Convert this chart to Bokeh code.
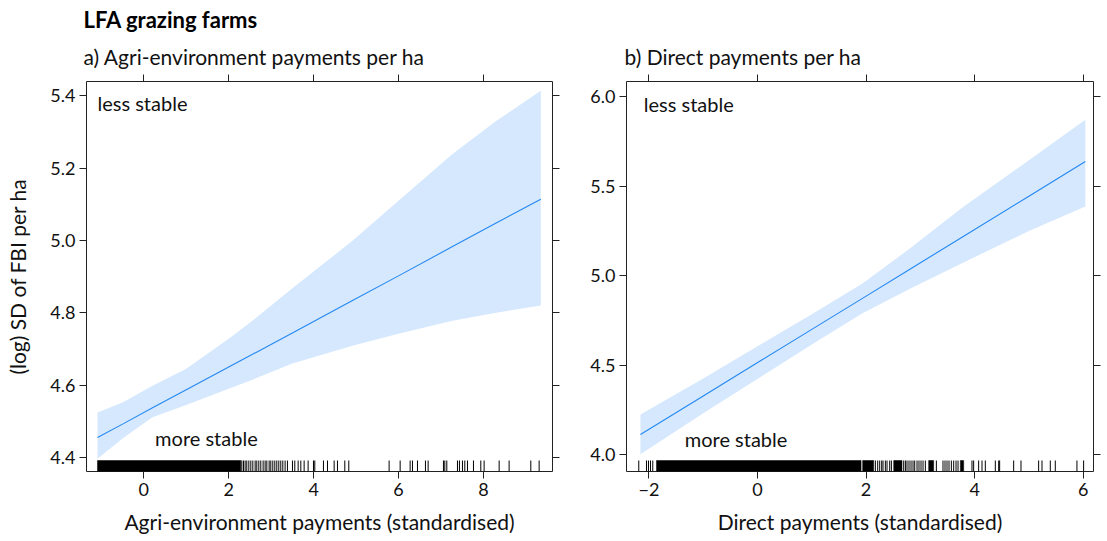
import math
from bokeh.plotting import figure
from bokeh.models import (Range1d, LinearAxis, FixedTicker, NumeralTickFormatter,
                          Title)
from bokeh.layouts import row
from bokeh.core.properties import value
from bokeh.embed import file_html
from bokeh.resources import INLINE

# ---------------- data ----------------
# Panel a: Agri-environment payments (standardised)
a_x = [-1.091, -0.5, 0.205, 1.0, 2.0, 2.561, 3.5, 4.916, 6.0, 7.272, 8.3, 9.352]
a_fit = [4.455, 4.492, 4.537, 4.587, 4.650, 4.685, 4.744, 4.834, 4.902, 4.983, 5.048, 5.114]
a_upper = [4.524, 4.552, 4.598, 4.645, 4.728, 4.778, 4.868, 4.999, 5.110, 5.239, 5.330, 5.414]
a_lower = [4.396, 4.452, 4.511, 4.545, 4.590, 4.615, 4.660, 4.709, 4.742, 4.778, 4.800, 4.820]
a_rug_dense = [(-1.091, 2.285)]
a_rug = [2.309, 2.348, 2.387, 2.426, 2.474, 2.521, 2.568, 2.623, 2.662, 2.709,
         2.756, 2.811, 2.858, 2.898, 2.953, 2.992, 3.039, 3.086, 3.133, 3.180,
         3.227, 3.275, 3.329, 3.384, 3.502, 3.557, 3.636, 3.699, 3.777, 3.871,
         3.997, 4.028, 4.232, 4.327, 4.484, 4.562, 4.735, 4.829, 5.779, 6.039,
         6.274, 6.329, 6.447, 6.635, 6.698, 7.059, 7.091, 7.138, 7.389, 7.436,
         7.507, 7.562, 7.625, 7.766, 7.939, 8.017, 8.371, 8.606, 9.117, 9.313]
a_xticks = [0, 2, 4, 6, 8]
a_yticks = [4.4, 4.6, 4.8, 5.0, 5.2, 5.4]

# Panel b: Direct payments (standardised)
b_x = [-2.157, -1.0, 0.085, 1.0, 1.926, 2.8, 3.768, 5.0, 6.04]
b_fit = [4.113, 4.328, 4.530, 4.700, 4.872, 5.035, 5.215, 5.444, 5.638]
b_upper = [4.224, 4.426, 4.621, 4.785, 4.955, 5.150, 5.380, 5.645, 5.871]
b_lower = [4.003, 4.232, 4.440, 4.615, 4.789, 4.925, 5.070, 5.250, 5.387]
b_rug_dense = [(-1.862, 1.908), (1.937, 2.140), (2.509, 2.662), (3.153, 3.245),
               (3.737, 3.798)]
b_rug = [-2.188, -2.046, -2.009, -1.972, -1.930, 2.171, 2.214, 2.251, 2.288,
         2.312, 2.355, 2.386, 2.435, 2.466, 2.693, 2.724, 2.754, 2.791, 2.828,
         2.865, 2.896, 2.939, 2.975, 3.012, 3.049, 3.092, 3.295, 3.417, 3.454,
         3.491, 3.528, 3.571, 3.614, 3.657, 3.694, 3.951, 3.982, 4.074, 4.136,
         4.197, 4.381, 4.443, 4.461, 4.719, 4.854, 5.179, 5.241, 5.394, 5.486,
         5.885, 6.008]
b_xticks = [-2, 0, 2, 4, 6]
b_yticks = [4.0, 4.5, 5.0, 5.5, 6.0]

main_title = "LFA grazing farms"
a_title = "a) Agri-environment payments per ha"
b_title = "b) Direct payments per ha"
a_xlabel = "Agri-environment payments (standardised)"
b_xlabel = "Direct payments (standardised)"
ylabel = "(log) SD of FBI per ha"
txt_less = "less stable"
txt_more = "more stable"

# ---------------- style ----------------
FONT = "Lato"
BAND = "#D6E8FD"
LINE = "#2388F2"
FRAME = "#222222"
FH = 390
RUG_PX = 11


def make_panel(xr, yr, xs, fit, lo, up, rug, dense, xticks, yticks, yfmt,
               less_xy, more_xy, xlabel, ylab, width_f, bl, br):
    p = figure(frame_width=width_f, frame_height=FH, min_border_left=bl,
               min_border_right=br, min_border_top=81, min_border_bottom=70,
               x_range=Range1d(*xr), y_range=Range1d(*yr),
               output_backend="svg", toolbar_location=None,
               x_axis_location=None, y_axis_location=None)
    p.background_fill_color = "white"
    p.border_fill_color = "white"
    p.outline_line_color = FRAME
    p.outline_line_width = 1
    p.grid.visible = False

    def style(ax, ticks, labels=True):
        ax.axis_line_color = None
        ax.major_tick_line_color = FRAME
        ax.major_tick_out = 7
        ax.major_tick_in = 0
        ax.minor_tick_line_color = None
        if labels:
            ax.major_label_text_font = FONT
            ax.major_label_text_font_size = "18px"
            ax.major_label_text_color = "#111111"
            ax.major_label_standoff = 4
        else:
            ax.major_label_overrides = {t: "" for t in ticks}
            ax.major_label_standoff = 0

    bottom = LinearAxis(ticker=FixedTicker(ticks=xticks))
    style(bottom, xticks)
    bottom.axis_label = xlabel
    bottom.axis_label_text_font = FONT
    bottom.axis_label_text_font_size = "21px"
    bottom.axis_label_text_font_style = "normal"
    bottom.axis_label_text_color = "#111111"
    bottom.axis_label_standoff = 10
    p.add_layout(bottom, "below")

    left = LinearAxis(ticker=FixedTicker(ticks=yticks),
                      formatter=NumeralTickFormatter(format=yfmt))
    style(left, yticks)
    if ylab:
        left.axis_label = ylab
        left.axis_label_text_font = FONT
        left.axis_label_text_font_size = "21px"
        left.axis_label_text_font_style = "normal"
        left.axis_label_text_color = "#111111"
        left.axis_label_standoff = 17
    p.add_layout(left, "left")

    right = LinearAxis(ticker=FixedTicker(ticks=yticks))
    style(right, yticks, labels=False)
    p.add_layout(right, "right")

    top = LinearAxis(ticker=FixedTicker(ticks=xticks))
    style(top, xticks, labels=False)
    p.add_layout(top, "above")

    # confidence band and fitted line
    p.varea(x=xs, y1=lo, y2=up, fill_color=BAND, fill_alpha=1.0)
    p.line(x=xs, y=fit, line_color=LINE, line_width=1.1)

    # rug
    ybot = yr[0]
    rug_h = RUG_PX * (yr[1] - yr[0]) / FH
    p.segment(x0=rug, y0=[ybot] * len(rug), x1=rug, y1=[ybot + rug_h] * len(rug),
              line_color="black", line_width=1)
    p.quad(left=[d[0] for d in dense], right=[d[1] for d in dense],
           bottom=[ybot] * len(dense), top=[ybot + rug_h] * len(dense),
           fill_color="black", line_color="black", line_width=0.5)

    # annotations (top-aligned)
    for (tx, ty), t in ((less_xy, txt_less), (more_xy, txt_more)):
        p.text(x=[tx], y=[ty], text=[t], text_font=value(FONT),
               text_font_size="20px", text_baseline="top", text_align="left",
               text_color="#111111")
    return p


pa = make_panel((-1.35, 9.628), (4.361, 5.4395), a_x, a_fit, a_lower, a_upper,
                a_rug, a_rug_dense, a_xticks, a_yticks, "0.0",
                (-1.091, 5.4138), (0.266, 4.4877), a_xlabel, ylabel, 466, 86, 20)
pb = make_panel((-2.414, 6.19), (3.906, 6.085), b_x, b_fit, b_lower, b_upper,
                b_rug, b_rug_dense, b_xticks, b_yticks, "0.0",
                (-2.096, 6.0237), (-1.341, 4.153), b_xlabel, None, 467, 54, 14)

sub_a = Title(text=a_title, align="left", offset=-3, text_font=FONT,
              text_font_size="21px", text_font_style="normal", standoff=11,
              text_color="#111111")
pa.add_layout(sub_a, "above")
main = Title(text=main_title, align="left", offset=-3, text_font=FONT,
             text_font_size="22px", text_font_style="bold", standoff=7,
             text_color="#000000")
pa.add_layout(main, "above")

sub_b = Title(text=b_title, align="left", offset=-2, text_font=FONT,
              text_font_size="21px", text_font_style="normal", standoff=11,
              text_color="#111111")
pb.add_layout(sub_b, "above")

layout = row(pa, pb)
open("out.html", "w").write(file_html(layout, INLINE))
